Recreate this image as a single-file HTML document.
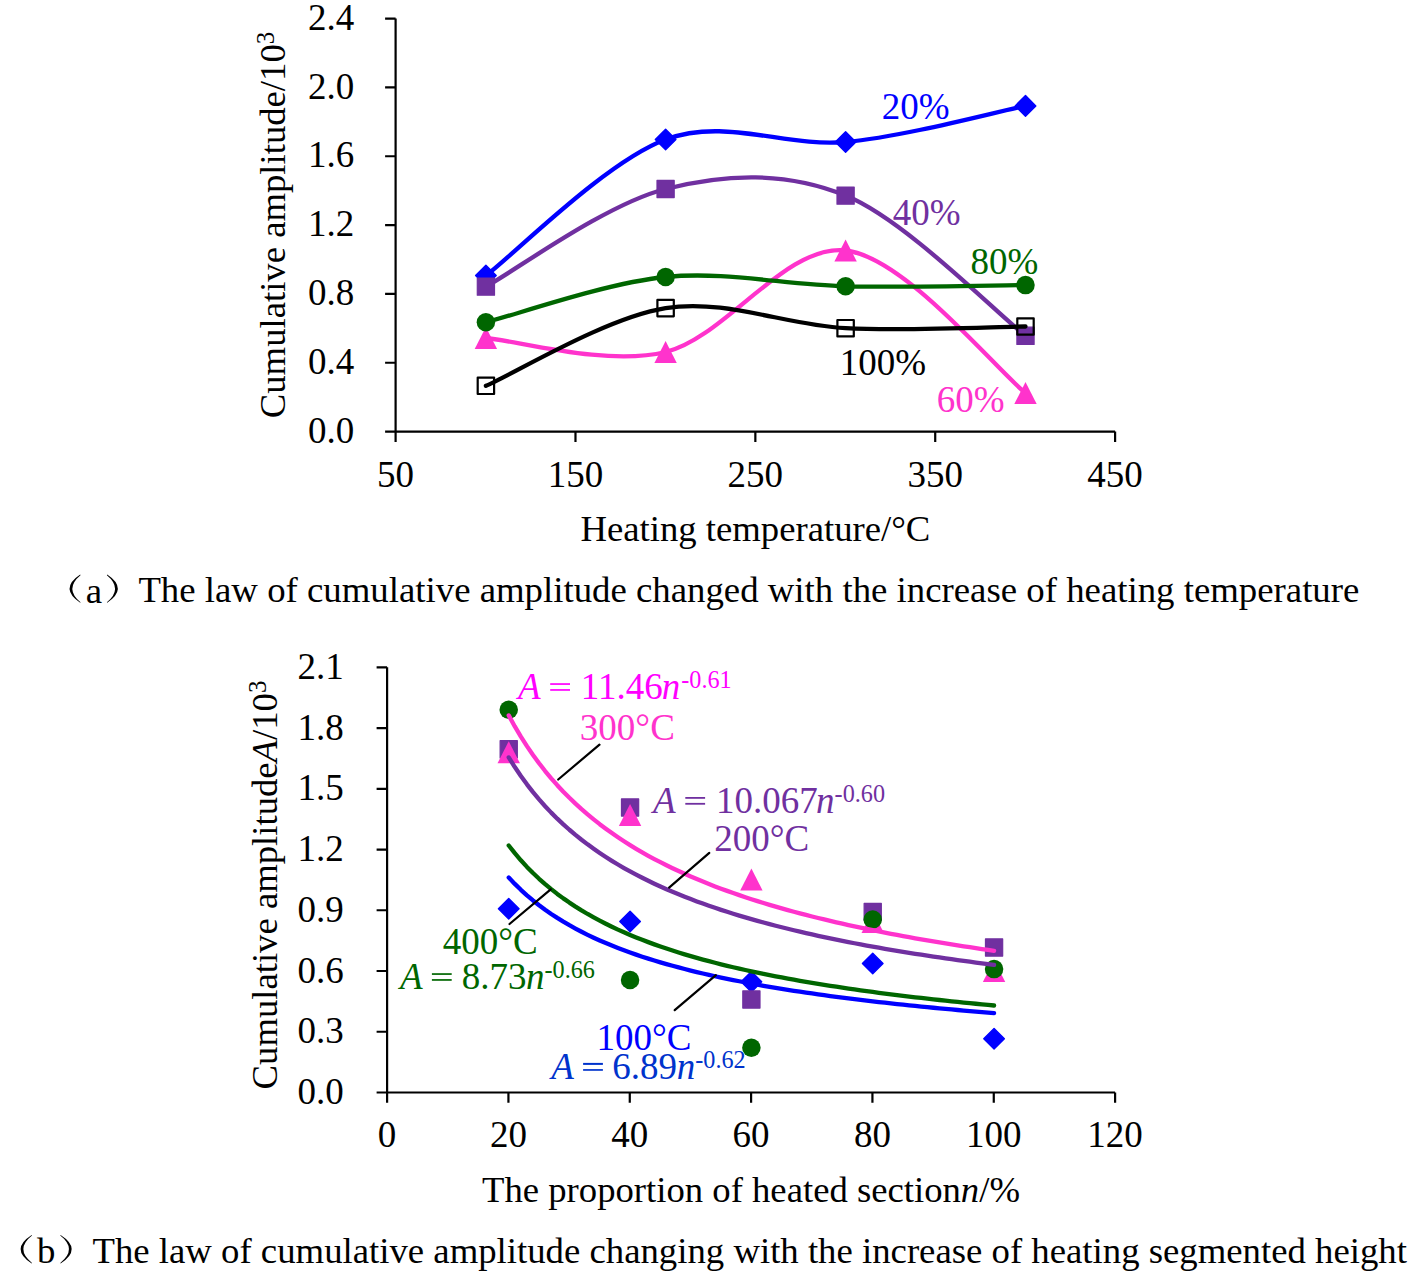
<!DOCTYPE html><html><head><meta charset="utf-8"><style>html,body{margin:0;padding:0;background:#fff;overflow:hidden} svg{display:block} text{font-family:"Liberation Serif", serif;}</style></head><body>
<svg width="1419" height="1274" viewBox="0 0 1419 1274">
<rect width="1419" height="1274" fill="#fff"/>
<path d="M395.6,18.6 L395.6,431.6 L1115.1,431.6" fill="none" stroke="#000" stroke-width="2.2" stroke-linejoin="round"/>
<path d="M385.1,431.60 L395.6,431.60 M385.1,362.77 L395.6,362.77 M385.1,293.93 L395.6,293.93 M385.1,225.10 L395.6,225.10 M385.1,156.27 L395.6,156.27 M385.1,87.43 L395.6,87.43 M385.1,18.60 L395.6,18.60 M395.60,431.6 L395.60,441.90000000000003 M575.48,431.6 L575.48,441.90000000000003 M755.35,431.6 L755.35,441.90000000000003 M935.22,431.6 L935.22,441.90000000000003 M1115.10,431.6 L1115.10,441.90000000000003 " stroke="#000" stroke-width="2.2" fill="none"/>
<path d="M387.1,667.3 L387.1,1092.5 L1115.1,1092.5" fill="none" stroke="#000" stroke-width="2.2" stroke-linejoin="round"/>
<path d="M376.6,1092.50 L387.1,1092.50 M376.6,1031.76 L387.1,1031.76 M376.6,971.01 L387.1,971.01 M376.6,910.27 L387.1,910.27 M376.6,849.53 L387.1,849.53 M376.6,788.79 L387.1,788.79 M376.6,728.04 L387.1,728.04 M376.6,667.30 L387.1,667.30 M387.10,1092.5 L387.10,1102.8 M508.43,1092.5 L508.43,1102.8 M629.77,1092.5 L629.77,1102.8 M751.10,1092.5 L751.10,1102.8 M872.43,1092.5 L872.43,1102.8 M993.77,1092.5 L993.77,1102.8 M1115.10,1092.5 L1115.10,1102.8 " stroke="#000" stroke-width="2.2" fill="none"/>
<text x="354.20" y="442.80" fill="#000000" font-size="37.0" text-anchor="end">0.0</text>
<text x="354.20" y="373.97" fill="#000000" font-size="37.0" text-anchor="end">0.4</text>
<text x="354.20" y="305.13" fill="#000000" font-size="37.0" text-anchor="end">0.8</text>
<text x="354.20" y="236.30" fill="#000000" font-size="37.0" text-anchor="end">1.2</text>
<text x="354.20" y="167.47" fill="#000000" font-size="37.0" text-anchor="end">1.6</text>
<text x="354.20" y="98.63" fill="#000000" font-size="37.0" text-anchor="end">2.0</text>
<text x="354.20" y="29.80" fill="#000000" font-size="37.0" text-anchor="end">2.4</text>
<text x="395.60" y="486.50" fill="#000000" font-size="37.0" text-anchor="middle">50</text>
<text x="575.48" y="486.50" fill="#000000" font-size="37.0" text-anchor="middle">150</text>
<text x="755.35" y="486.50" fill="#000000" font-size="37.0" text-anchor="middle">250</text>
<text x="935.22" y="486.50" fill="#000000" font-size="37.0" text-anchor="middle">350</text>
<text x="1115.10" y="486.50" fill="#000000" font-size="37.0" text-anchor="middle">450</text>
<text x="343.80" y="1104.00" fill="#000000" font-size="37.0" text-anchor="end">0.0</text>
<text x="343.80" y="1043.26" fill="#000000" font-size="37.0" text-anchor="end">0.3</text>
<text x="343.80" y="982.51" fill="#000000" font-size="37.0" text-anchor="end">0.6</text>
<text x="343.80" y="921.77" fill="#000000" font-size="37.0" text-anchor="end">0.9</text>
<text x="343.80" y="861.03" fill="#000000" font-size="37.0" text-anchor="end">1.2</text>
<text x="343.80" y="800.29" fill="#000000" font-size="37.0" text-anchor="end">1.5</text>
<text x="343.80" y="739.54" fill="#000000" font-size="37.0" text-anchor="end">1.8</text>
<text x="343.80" y="678.80" fill="#000000" font-size="37.0" text-anchor="end">2.1</text>
<text x="387.10" y="1147.20" fill="#000000" font-size="37.0" text-anchor="middle">0</text>
<text x="508.43" y="1147.20" fill="#000000" font-size="37.0" text-anchor="middle">20</text>
<text x="629.77" y="1147.20" fill="#000000" font-size="37.0" text-anchor="middle">40</text>
<text x="751.10" y="1147.20" fill="#000000" font-size="37.0" text-anchor="middle">60</text>
<text x="872.43" y="1147.20" fill="#000000" font-size="37.0" text-anchor="middle">80</text>
<text x="993.77" y="1147.20" fill="#000000" font-size="37.0" text-anchor="middle">100</text>
<text x="1115.10" y="1147.20" fill="#000000" font-size="37.0" text-anchor="middle">120</text>
<text x="881.75" y="118.95" fill="#0000FF" font-size="37.0" text-anchor="start">20%</text>
<text x="892.80" y="225.05" fill="#7030A0" font-size="37.0" text-anchor="start">40%</text>
<text x="970.45" y="274.05" fill="#006600" font-size="37.0" text-anchor="start">80%</text>
<text x="839.75" y="375.00" fill="#000000" font-size="37.0" text-anchor="start">100%</text>
<text x="936.70" y="412.35" fill="#FF33CC" font-size="37.0" text-anchor="start">60%</text>
<text x="579.85" y="740.00" fill="#FF33CC" font-size="37.0" text-anchor="start">300°C</text>
<text x="714.20" y="850.80" fill="#7030A0" font-size="37.0" text-anchor="start">200°C</text>
<text x="442.65" y="954.30" fill="#006600" font-size="37.0" text-anchor="start">400°C</text>
<text x="596.50" y="1050.00" fill="#0000FF" font-size="37.0" text-anchor="start">100°C</text>
<text x="755.40" y="540.90" fill="#000000" font-size="36.7" text-anchor="middle">Heating temperature/°C</text>
<text x="751.00" y="1202.20" fill="#000000" font-size="36.7" text-anchor="middle">The proportion of heated section<tspan font-style="italic">n</tspan>/%</text>
<text transform="translate(284.9,225) rotate(-90)" fill="#000" font-size="36.7" text-anchor="middle">Cumulative amplitude/10<tspan dy="-11.3" font-size="25">3</tspan></text>
<text transform="translate(277.0,885) rotate(-90)" fill="#000" font-size="36.7" text-anchor="middle">Cumulative amplitude<tspan font-style="italic">A</tspan>/10<tspan dy="-11.3" font-size="25">3</tspan></text>
<text x="138.40" y="602.00" fill="#000000" font-size="36.8" text-anchor="start">The law of cumulative amplitude changed with the increase of heating temperature</text>
<text x="85.80" y="602.50" fill="#000000" font-size="36.8" text-anchor="start">a</text>
<text x="92.50" y="1262.60" fill="#000000" font-size="36.76" text-anchor="start">The law of cumulative amplitude changing with the increase of heating segmented height</text>
<text x="37.00" y="1263.00" fill="#000000" font-size="36.8" text-anchor="start">b</text>
<path d="M80.20,574.60 Q59.00,588.70 80.20,602.80 L80.50,602.20 Q64.20,588.70 80.50,575.20Z" fill="#000"/>
<path d="M107.20,574.60 Q128.40,588.70 107.20,602.80 L106.90,602.20 Q123.20,588.70 106.90,575.20Z" fill="#000"/>
<path d="M31.70,1235.00 Q9.50,1249.25 31.70,1263.50 L32.00,1262.90 Q14.70,1249.25 32.00,1235.60Z" fill="#000"/>
<path d="M60.60,1235.00 Q82.80,1249.25 60.60,1263.50 L60.30,1262.90 Q77.60,1249.25 60.30,1235.60Z" fill="#000"/>
<path d="M485.90,275.60 C515.85,252.92 605.65,161.77 665.60,139.50 C725.55,117.23 785.62,147.60 845.60,142.00 C905.58,136.40 995.52,111.92 1025.50,105.90" fill="none" stroke="#0000FF" stroke-width="4.3" stroke-linecap="round" stroke-linejoin="round"/>
<path d="M485.90,265.30 L496.20,275.60 L485.90,285.90 L475.60,275.60Z" fill="#0000FF" stroke="#0000FF" stroke-width="1.4" stroke-linejoin="round"/>
<path d="M665.60,129.20 L675.90,139.50 L665.60,149.80 L655.30,139.50Z" fill="#0000FF" stroke="#0000FF" stroke-width="1.4" stroke-linejoin="round"/>
<path d="M845.60,131.70 L855.90,142.00 L845.60,152.30 L835.30,142.00Z" fill="#0000FF" stroke="#0000FF" stroke-width="1.4" stroke-linejoin="round"/>
<path d="M1025.50,95.60 L1035.80,105.90 L1025.50,116.20 L1015.20,105.90Z" fill="#0000FF" stroke="#0000FF" stroke-width="1.4" stroke-linejoin="round"/>
<path d="M485.90,286.60 C515.85,270.33 605.65,204.17 665.60,189.00 C725.55,173.83 785.62,171.13 845.60,195.60 C905.58,220.07 995.52,312.43 1025.50,335.80" fill="none" stroke="#7030A0" stroke-width="4.3" stroke-linecap="round" stroke-linejoin="round"/>
<rect x="477.30" y="278.00" width="17.2" height="17.2" fill="#7030A0" stroke="#7030A0" stroke-width="1.2" stroke-linejoin="round"/>
<rect x="657.00" y="180.40" width="17.2" height="17.2" fill="#7030A0" stroke="#7030A0" stroke-width="1.2" stroke-linejoin="round"/>
<rect x="837.00" y="187.00" width="17.2" height="17.2" fill="#7030A0" stroke="#7030A0" stroke-width="1.2" stroke-linejoin="round"/>
<rect x="1016.90" y="327.20" width="17.2" height="17.2" fill="#7030A0" stroke="#7030A0" stroke-width="1.2" stroke-linejoin="round"/>
<path d="M485.90,338.00 C515.85,340.33 605.65,366.58 665.60,352.00 C725.55,337.42 785.62,243.67 845.60,250.50 C905.58,257.33 995.52,369.25 1025.50,393.00" fill="none" stroke="#FF33CC" stroke-width="4.3" stroke-linecap="round" stroke-linejoin="round"/>
<path d="M485.90,327.00 L497.10,349.00 L474.70,349.00Z" fill="#FF33CC"/>
<path d="M665.60,341.00 L676.80,363.00 L654.40,363.00Z" fill="#FF33CC"/>
<path d="M845.60,239.50 L856.80,261.50 L834.40,261.50Z" fill="#FF33CC"/>
<path d="M1025.50,382.00 L1036.70,404.00 L1014.30,404.00Z" fill="#FF33CC"/>
<path d="M485.90,322.30 C515.85,314.75 605.65,283.00 665.60,277.00 C725.55,271.00 785.62,284.95 845.60,286.30 C905.58,287.65 995.52,285.30 1025.50,285.10" fill="none" stroke="#006600" stroke-width="4.3" stroke-linecap="round" stroke-linejoin="round"/>
<circle cx="485.90" cy="322.30" r="9.25" fill="#006600"/>
<circle cx="665.60" cy="277.00" r="9.25" fill="#006600"/>
<circle cx="845.60" cy="286.30" r="9.25" fill="#006600"/>
<circle cx="1025.50" cy="285.10" r="9.25" fill="#006600"/>
<path d="M485.90,385.80 C515.85,372.85 605.65,317.70 665.60,308.10 C725.55,298.50 785.62,325.13 845.60,328.20 C905.58,331.27 995.52,326.78 1025.50,326.50" fill="none" stroke="#000000" stroke-width="4.3" stroke-linecap="round" stroke-linejoin="round"/>
<rect x="477.70" y="377.60" width="16.4" height="16.4" fill="none" stroke="#000000" stroke-width="2.2" stroke-linejoin="round"/>
<rect x="657.40" y="299.90" width="16.4" height="16.4" fill="none" stroke="#000000" stroke-width="2.2" stroke-linejoin="round"/>
<rect x="837.40" y="320.00" width="16.4" height="16.4" fill="none" stroke="#000000" stroke-width="2.2" stroke-linejoin="round"/>
<rect x="1017.30" y="318.30" width="16.4" height="16.4" fill="none" stroke="#000000" stroke-width="2.2" stroke-linejoin="round"/>
<path d="M508.73,898.50 L519.03,908.80 L508.73,919.10 L498.43,908.80Z" fill="#0000FF" stroke="#0000FF" stroke-width="1.4" stroke-linejoin="round"/>
<path d="M630.07,911.20 L640.37,921.50 L630.07,931.80 L619.77,921.50Z" fill="#0000FF" stroke="#0000FF" stroke-width="1.4" stroke-linejoin="round"/>
<path d="M751.40,971.50 L761.70,981.80 L751.40,992.10 L741.10,981.80Z" fill="#0000FF" stroke="#0000FF" stroke-width="1.4" stroke-linejoin="round"/>
<path d="M872.73,953.20 L883.03,963.50 L872.73,973.80 L862.43,963.50Z" fill="#0000FF" stroke="#0000FF" stroke-width="1.4" stroke-linejoin="round"/>
<path d="M994.07,1028.50 L1004.37,1038.80 L994.07,1049.10 L983.77,1038.80Z" fill="#0000FF" stroke="#0000FF" stroke-width="1.4" stroke-linejoin="round"/>
<rect x="500.13" y="740.70" width="17.2" height="17.2" fill="#7030A0" stroke="#7030A0" stroke-width="1.2" stroke-linejoin="round"/>
<rect x="621.47" y="798.90" width="17.2" height="17.2" fill="#7030A0" stroke="#7030A0" stroke-width="1.2" stroke-linejoin="round"/>
<rect x="742.80" y="990.90" width="17.2" height="17.2" fill="#7030A0" stroke="#7030A0" stroke-width="1.2" stroke-linejoin="round"/>
<rect x="864.13" y="903.40" width="17.2" height="17.2" fill="#7030A0" stroke="#7030A0" stroke-width="1.2" stroke-linejoin="round"/>
<rect x="985.47" y="938.90" width="17.2" height="17.2" fill="#7030A0" stroke="#7030A0" stroke-width="1.2" stroke-linejoin="round"/>
<path d="M508.73,741.30 L519.93,763.30 L497.53,763.30Z" fill="#FF33CC"/>
<path d="M630.07,804.00 L641.27,826.00 L618.87,826.00Z" fill="#FF33CC"/>
<path d="M751.40,868.50 L762.60,890.50 L740.20,890.50Z" fill="#FF33CC"/>
<path d="M872.73,911.00 L883.93,933.00 L861.53,933.00Z" fill="#FF33CC"/>
<path d="M994.07,960.00 L1005.27,982.00 L982.87,982.00Z" fill="#FF33CC"/>
<circle cx="508.73" cy="709.70" r="9.25" fill="#006600"/>
<circle cx="630.07" cy="980.00" r="9.25" fill="#006600"/>
<circle cx="751.40" cy="1047.70" r="9.25" fill="#006600"/>
<circle cx="872.73" cy="919.50" r="9.25" fill="#006600"/>
<circle cx="994.07" cy="969.10" r="9.25" fill="#006600"/>
<path d="M508.73,877.50 L514.80,883.90 L520.87,889.82 L526.93,895.32 L533.00,900.44 L539.07,905.23 L545.13,909.73 L551.20,913.95 L557.27,917.92 L563.33,921.67 L569.40,925.22 L575.47,928.58 L581.53,931.77 L587.60,934.80 L593.67,937.69 L599.73,940.44 L605.80,943.07 L611.87,945.58 L617.93,947.99 L624.00,950.29 L630.07,952.50 L636.13,954.63 L642.20,956.67 L648.27,958.63 L654.33,960.52 L660.40,962.35 L666.47,964.10 L672.53,965.80 L678.60,967.44 L684.67,969.03 L690.73,970.56 L696.80,972.05 L702.87,973.49 L708.93,974.88 L715.00,976.23 L721.07,977.55 L727.13,978.82 L733.20,980.06 L739.27,981.26 L745.33,982.44 L751.40,983.57 L757.47,984.68 L763.53,985.76 L769.60,986.81 L775.67,987.84 L781.73,988.84 L787.80,989.81 L793.87,990.77 L799.93,991.69 L806.00,992.60 L812.07,993.49 L818.13,994.35 L824.20,995.20 L830.27,996.02 L836.33,996.83 L842.40,997.63 L848.47,998.40 L854.53,999.16 L860.60,999.90 L866.67,1000.63 L872.73,1001.34 L878.80,1002.04 L884.87,1002.72 L890.93,1003.39 L897.00,1004.05 L903.07,1004.70 L909.13,1005.33 L915.20,1005.95 L921.27,1006.56 L927.33,1007.16 L933.40,1007.75 L939.47,1008.33 L945.53,1008.89 L951.60,1009.45 L957.67,1010.00 L963.73,1010.54 L969.80,1011.07 L975.87,1011.59 L981.93,1012.10 L988.00,1012.60 L994.07,1013.10" fill="none" stroke="#0000FF" stroke-width="4.3" stroke-linecap="round" stroke-linejoin="round"/>
<path d="M508.73,757.40 L514.80,767.07 L520.87,776.02 L526.93,784.35 L533.00,792.12 L539.07,799.39 L545.13,806.20 L551.20,812.61 L557.27,818.65 L563.33,824.36 L569.40,829.76 L575.47,834.87 L581.53,839.73 L587.60,844.36 L593.67,848.76 L599.73,852.96 L605.80,856.98 L611.87,860.82 L617.93,864.49 L624.00,868.02 L630.07,871.40 L636.13,874.65 L642.20,877.78 L648.27,880.79 L654.33,883.69 L660.40,886.49 L666.47,889.19 L672.53,891.79 L678.60,894.31 L684.67,896.75 L690.73,899.11 L696.80,901.39 L702.87,903.60 L708.93,905.75 L715.00,907.83 L721.07,909.85 L727.13,911.82 L733.20,913.73 L739.27,915.58 L745.33,917.39 L751.40,919.14 L757.47,920.85 L763.53,922.52 L769.60,924.14 L775.67,925.73 L781.73,927.27 L787.80,928.78 L793.87,930.25 L799.93,931.68 L806.00,933.09 L812.07,934.46 L818.13,935.79 L824.20,937.10 L830.27,938.38 L836.33,939.64 L842.40,940.86 L848.47,942.06 L854.53,943.24 L860.60,944.39 L866.67,945.52 L872.73,946.62 L878.80,947.71 L884.87,948.77 L890.93,949.81 L897.00,950.83 L903.07,951.83 L909.13,952.82 L915.20,953.78 L921.27,954.73 L927.33,955.66 L933.40,956.57 L939.47,957.47 L945.53,958.35 L951.60,959.22 L957.67,960.07 L963.73,960.91 L969.80,961.74 L975.87,962.55 L981.93,963.34 L988.00,964.13 L994.07,964.90" fill="none" stroke="#7030A0" stroke-width="4.3" stroke-linecap="round" stroke-linejoin="round"/>
<path d="M508.73,715.40 L514.80,726.43 L520.87,736.64 L526.93,746.13 L533.00,754.98 L539.07,763.25 L545.13,771.02 L551.20,778.31 L557.27,785.18 L563.33,791.67 L569.40,797.81 L575.47,803.63 L581.53,809.15 L587.60,814.41 L593.67,819.41 L599.73,824.18 L605.80,828.74 L611.87,833.10 L617.93,837.27 L624.00,841.27 L630.07,845.11 L636.13,848.80 L642.20,852.34 L648.27,855.76 L654.33,859.04 L660.40,862.21 L666.47,865.27 L672.53,868.22 L678.60,871.07 L684.67,873.83 L690.73,876.50 L696.80,879.09 L702.87,881.60 L708.93,884.02 L715.00,886.38 L721.07,888.67 L727.13,890.89 L733.20,893.05 L739.27,895.15 L745.33,897.19 L751.40,899.17 L757.47,901.11 L763.53,902.99 L769.60,904.83 L775.67,906.62 L781.73,908.36 L787.80,910.06 L793.87,911.72 L799.93,913.34 L806.00,914.93 L812.07,916.47 L818.13,917.99 L824.20,919.46 L830.27,920.91 L836.33,922.32 L842.40,923.71 L848.47,925.06 L854.53,926.39 L860.60,927.69 L866.67,928.96 L872.73,930.20 L878.80,931.43 L884.87,932.62 L890.93,933.80 L897.00,934.95 L903.07,936.08 L909.13,937.19 L915.20,938.28 L921.27,939.34 L927.33,940.39 L933.40,941.42 L939.47,942.44 L945.53,943.43 L951.60,944.41 L957.67,945.37 L963.73,946.31 L969.80,947.24 L975.87,948.15 L981.93,949.05 L988.00,949.93 L994.07,950.80" fill="none" stroke="#FF33CC" stroke-width="4.3" stroke-linecap="round" stroke-linejoin="round"/>
<path d="M508.73,845.50 L514.80,853.19 L520.87,860.30 L526.93,866.90 L533.00,873.04 L539.07,878.77 L545.13,884.14 L551.20,889.17 L557.27,893.91 L563.33,898.38 L569.40,902.60 L575.47,906.59 L581.53,910.38 L587.60,913.98 L593.67,917.40 L599.73,920.66 L605.80,923.77 L611.87,926.74 L617.93,929.58 L624.00,932.30 L630.07,934.91 L636.13,937.41 L642.20,939.82 L648.27,942.13 L654.33,944.36 L660.40,946.50 L666.47,948.56 L672.53,950.56 L678.60,952.48 L684.67,954.34 L690.73,956.14 L696.80,957.88 L702.87,959.56 L708.93,961.19 L715.00,962.78 L721.07,964.31 L727.13,965.80 L733.20,967.24 L739.27,968.65 L745.33,970.01 L751.40,971.34 L757.47,972.63 L763.53,973.89 L769.60,975.11 L775.67,976.31 L781.73,977.47 L787.80,978.60 L793.87,979.71 L799.93,980.78 L806.00,981.84 L812.07,982.86 L818.13,983.87 L824.20,984.85 L830.27,985.81 L836.33,986.74 L842.40,987.66 L848.47,988.56 L854.53,989.43 L860.60,990.29 L866.67,991.13 L872.73,991.96 L878.80,992.76 L884.87,993.55 L890.93,994.33 L897.00,995.09 L903.07,995.83 L909.13,996.56 L915.20,997.28 L921.27,997.98 L927.33,998.67 L933.40,999.35 L939.47,1000.01 L945.53,1000.67 L951.60,1001.31 L957.67,1001.94 L963.73,1002.56 L969.80,1003.17 L975.87,1003.76 L981.93,1004.35 L988.00,1004.93 L994.07,1005.50" fill="none" stroke="#006600" stroke-width="4.3" stroke-linecap="round" stroke-linejoin="round"/>
<line x1="558.2" y1="779.5" x2="599.5" y2="744.6" stroke="#000" stroke-width="2.2" stroke-linecap="round"/>
<line x1="669.1" y1="887.6" x2="709.3" y2="852.9" stroke="#000" stroke-width="2.2" stroke-linecap="round"/>
<line x1="509.5" y1="924" x2="550.7" y2="889.3" stroke="#000" stroke-width="2.2" stroke-linecap="round"/>
<line x1="674.7" y1="1010.2" x2="715.9" y2="975.2" stroke="#000" stroke-width="2.2" stroke-linecap="round"/>
<text x="517.92" y="698.80" fill="#FF00FF" font-size="37.0" font-style="italic">A</text><rect x="550.20" y="683.20" width="19.8" height="1.70" fill="#FF00FF"/><rect x="550.20" y="689.10" width="19.8" height="1.70" fill="#FF00FF"/><text x="580.75" y="698.80" fill="#FF00FF" font-size="37.0">11.46</text><text x="661.78" y="698.80" fill="#FF00FF" font-size="37.0" font-style="italic">n</text><text x="681.30" y="688.30" fill="#FF00FF" font-size="24.2">-0.61</text>
<text x="653.02" y="813.00" fill="#7030A0" font-size="37.0" font-style="italic">A</text><rect x="685.30" y="797.00" width="19.8" height="1.80" fill="#7030A0"/><rect x="685.30" y="802.90" width="19.8" height="1.80" fill="#7030A0"/><text x="715.95" y="813.00" fill="#7030A0" font-size="37.0">10.067</text><text x="815.88" y="813.00" fill="#7030A0" font-size="37.0" font-style="italic">n</text><text x="834.60" y="802.40" fill="#7030A0" font-size="24.2">-0.60</text>
<text x="400.02" y="988.80" fill="#006600" font-size="37.0" font-style="italic">A</text><rect x="431.90" y="973.20" width="19.8" height="1.70" fill="#006600"/><rect x="431.90" y="979.10" width="19.8" height="1.70" fill="#006600"/><text x="461.79" y="988.80" fill="#006600" font-size="37.0">8.73</text><text x="525.88" y="988.80" fill="#006600" font-size="37.0" font-style="italic">n</text><text x="544.50" y="978.30" fill="#006600" font-size="24.2">-0.66</text>
<text x="551.22" y="1078.80" fill="#0033CC" font-size="37.0" font-style="italic">A</text><rect x="583.10" y="1062.90" width="19.8" height="2.00" fill="#0033CC"/><rect x="583.10" y="1069.10" width="19.8" height="1.70" fill="#0033CC"/><text x="612.31" y="1078.80" fill="#0033CC" font-size="37.0">6.89</text><text x="676.68" y="1078.80" fill="#0033CC" font-size="37.0" font-style="italic">n</text><text x="695.30" y="1068.30" fill="#0033CC" font-size="24.2">-0.62</text>
</svg></body></html>
